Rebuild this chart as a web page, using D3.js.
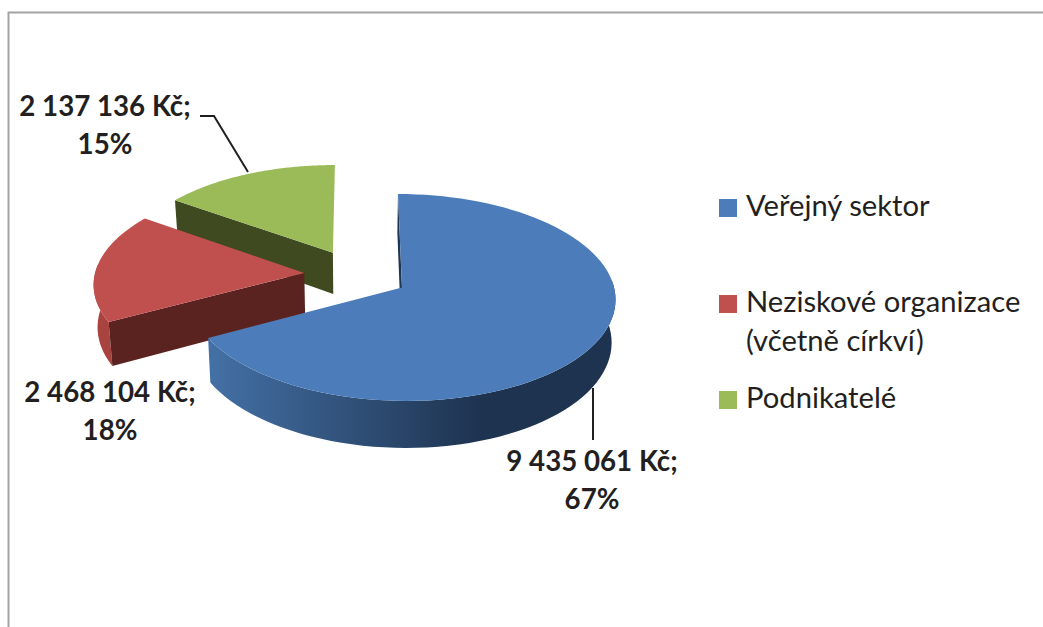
<!DOCTYPE html>
<html>
<head>
<meta charset="utf-8">
<script src="https://cdn.jsdelivr.net/npm/d3@7"></script>
<style>
  html, body { margin: 0; background: #fff; }
  svg { display: block; }
  text { font-family: Lato, "Open Sans", sans-serif; fill: #231f20; }
</style>
</head>
<body>
<svg id="chart" width="1043" height="627"></svg>
<script>
var categories = ['Veřejný sektor', 'Neziskové organizace (včetně církví)', 'Podnikatelé'];
var amounts = [9435061, 2468104, 2137136];
var amount_labels = ['9 435 061 Kč;', '2 468 104 Kč;', '2 137 136 Kč;'];
var percent_labels = ['67%', '18%', '15%'];
var legend_lines = [['Veřejný sektor'], ['Neziskové organizace', '(včetně církví)'], ['Podnikatelé']];

var top_colors = ['#4c7dba', '#c0504d', '#9bbb59'];
var cut_colors = ['#1f3552', '#5a231f', '#3f4a20'];
var outer_colors = ['url(#blue-side)', '#a8433f', '#6f8740'];

var svg = d3.select('#chart');

// Fake 3D: the disk is projected with a little perspective
var center = {x: 356.5, y: 274.5};
var radius_x = 209.5;
var radius_y = 100;
var perspective = 0.095;
var depth = 42;
var bottom_scale = 0.985;
var explode = 0.25;

function project(u, v, lower) {
  var p = 1 / (1 + perspective * v);
  return [
    center.x + radius_x * u * p * (lower ? bottom_scale : 1),
    center.y + (-radius_y * v + (lower ? depth : 0)) * p
  ];
}

var color = d3.scaleOrdinal().domain(categories).range(top_colors);
var pie = d3.pie().sort(null);
var line = d3.line();

// Frame
svg.append('path')
  .attr('d', 'M8.5,627V12.5H1043')
  .attr('fill', 'none')
  .attr('stroke', '#a3a3a3')
  .attr('stroke-width', 2);

var defs = svg.append('defs');
var gradient = defs.append('linearGradient')
  .attr('id', 'blue-side')
  .attr('gradientUnits', 'userSpaceOnUse')
  .attr('x1', 207).attr('x2', 480).attr('y1', 0).attr('y2', 0);
gradient.append('stop').attr('offset', 0).attr('stop-color', '#4471a6');
gradient.append('stop').attr('offset', 1).attr('stop-color', '#1e3350');

function rimPoints(slice, steps) {
  var offset = (slice.startAngle + slice.endAngle) / 2;
  var origin = [explode * Math.sin(offset), explode * Math.cos(offset)];
  return {
    origin: origin,
    rim: d3.range(steps + 1).map(function(i) {
      var a = slice.startAngle + (slice.endAngle - slice.startAngle) * i / steps;
      return [origin[0] + Math.sin(a), origin[1] + Math.cos(a), a];
    })
  };
}

// Back slices first, so the front ones cover them
var slices = pie(amounts);
[2, 1, 0].forEach(function(index) {
  var slice = slices[index];
  var shape = rimPoints(slice, 90);
  var g = svg.append('g').attr('class', 'slice');

  function upper(d) { return project(d[0], d[1], false); }
  function lower(d) { return project(d[0], d[1], true); }

  // Only the near part of the rim can be seen
  var near = shape.rim.filter(function(d) { return Math.cos(d[2]) < 0.1; });
  if (near.length) {
    var outer = near.map(upper).concat(near.slice().reverse().map(lower));
    g.append('path')
      .attr('d', line(outer) + 'Z')
      .attr('fill', outer_colors[index]);
  }

  var edge = [shape.origin, shape.rim[0]];
  var cut = edge.map(upper).concat(edge.slice().reverse().map(lower));
  g.append('path')
    .attr('d', line(cut) + 'Z')
    .attr('fill', cut_colors[index]);

  var top = [shape.origin].concat(shape.rim).map(upper);
  g.append('path')
    .attr('d', line(top) + 'Z')
    .attr('fill', color(categories[index]));
});

// Leader lines
var leader_lines = [
  [[593, 388], [593, 440]],
  [[200, 116], [214, 116], [248, 172]]
];
svg.selectAll('path.leader')
  .data(leader_lines)
  .enter().append('path')
    .attr('class', 'leader')
    .attr('d', function(d) { return line(d); })
    .attr('fill', 'none')
    .attr('stroke', '#231f20')
    .attr('stroke-width', 2);

// Data labels
var label_spots = [{x: 592, y: 471}, {x: 110, y: 402}, {x: 105, y: 116}];
var label_step = 38;
amounts.forEach(function(d, i) {
  var label = svg.append('text')
    .attr('text-anchor', 'middle')
    .attr('font-size', 27.7)
    .attr('font-weight', 700);
  label.append('tspan')
    .attr('x', label_spots[i].x).attr('y', label_spots[i].y)
    .text(amount_labels[i]);
  label.append('tspan')
    .attr('x', label_spots[i].x).attr('y', label_spots[i].y + label_step)
    .text(percent_labels[i]);
});

// Legend
var legend_y = [199, 295, 391];
var legend = svg.selectAll('g.legend')
  .data(categories)
  .enter().append('g')
    .attr('class', 'legend');
legend.append('rect')
  .attr('x', 719)
  .attr('y', function(d, i) { return legend_y[i]; })
  .attr('width', 18)
  .attr('height', 18)
  .attr('fill', function(d) { return color(d); });
legend.each(function(d, i) {
  var group = d3.select(this);
  legend_lines[i].forEach(function(text, j) {
    group.append('text')
      .attr('x', 746)
      .attr('y', legend_y[i] + 17 + j * 39)
      .attr('font-size', 29.2)
      .text(text);
  });
});
</script>
</body>
</html>
